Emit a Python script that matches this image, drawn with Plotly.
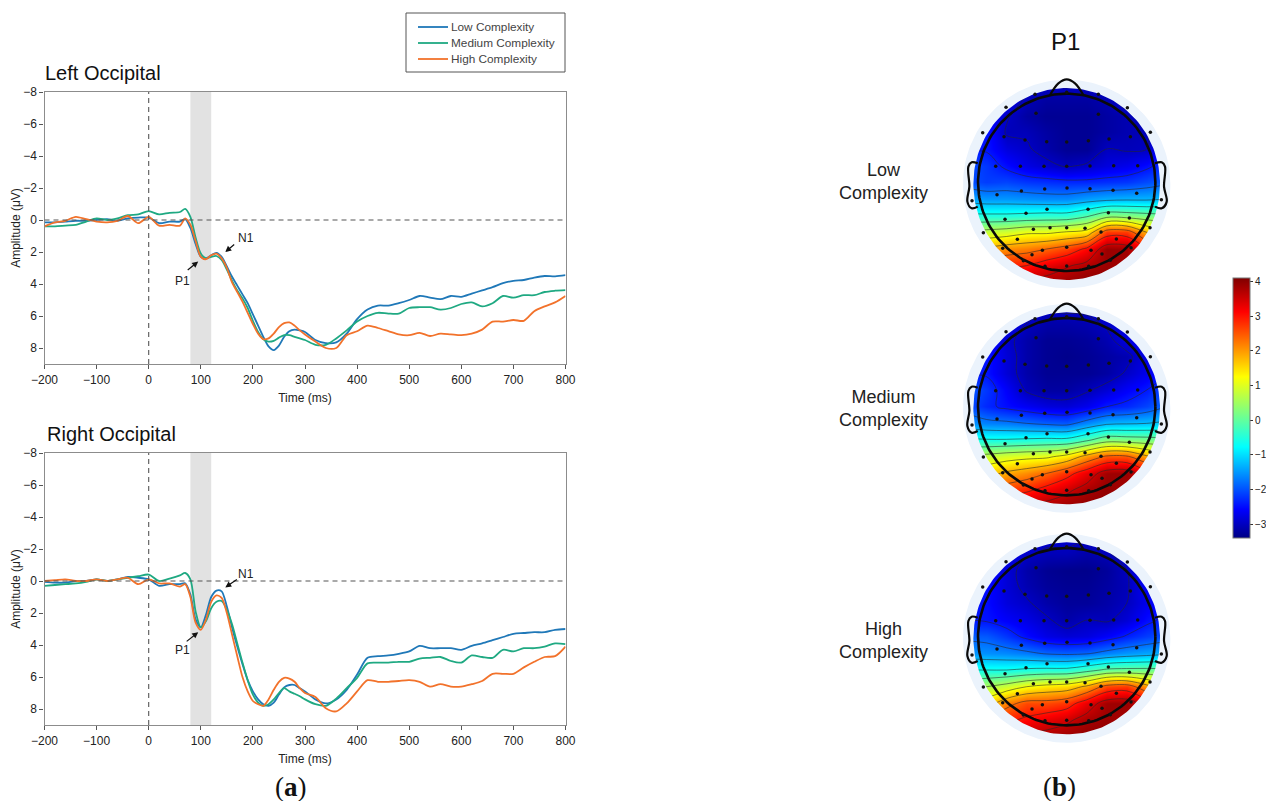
import numpy as np
import plotly.graph_objects as go

W, H = 1266, 801
time_ms = [-200,-180,-160,-140,-120,-100,-80,-60,-40,-20,0,20,40,60,
           70,80,90,100,110,120,130,140,150,160,170,180,190,200,210,220,230,240,250,260,270,280,290,300,
           320,340,360,380,400,420,440,460,480,500,520,540,560,580,600,620,640,660,680,700,720,740,760,780,800]

left_low = [.15,.15,.1,.05,.05,0,-.05,.05,-.1,-.15,-.15,.2,.1,.1,
            -.05,.5,1.5,2.3,2.4,2.2,2.05,2.3,2.9,3.55,4.1,4.65,5.2,5.9,6.6,7.3,7.9,8.13,7.85,7.3,6.95,6.85,6.9,7.0,
            7.5,7.7,7.65,7.1,6.2,5.6,5.35,5.35,5.2,5.0,4.75,4.85,4.95,4.75,4.8,4.6,4.4,4.2,3.95,3.8,3.75,3.6,3.5,3.52,3.45]
left_med = [.4,.4,.35,.3,.1,-.1,0,-.1,-.3,-.35,-.55,-.35,-.45,-.5,
            -.7,-.2,1.1,2.1,2.4,2.3,2.25,2.5,3.1,3.8,4.4,4.9,5.5,6.3,7.0,7.45,7.6,7.55,7.35,7.2,7.2,7.3,7.4,7.5,
            7.8,7.8,7.4,6.9,6.35,6.0,5.8,5.85,5.85,5.5,5.45,5.45,5.6,5.5,5.25,5.15,5.4,5.2,4.75,4.85,4.7,4.7,4.5,4.42,4.38]
left_high = [.4,.15,.05,-.2,-.05,.1,.15,.05,-.25,.2,-.2,.35,.3,.35,
             -.1,.3,1.3,2.3,2.45,2.2,2.1,2.4,3.0,3.9,4.5,5.1,5.8,6.5,7.1,7.45,7.4,7.1,6.7,6.45,6.4,6.6,6.9,7.15,
             7.6,8.0,8.0,7.2,6.95,6.6,6.75,6.95,7.15,7.2,7.05,7.25,7.1,7.15,7.2,7.1,6.85,6.35,6.35,6.25,6.3,5.7,5.4,5.15,4.75]
right_low = [.05,.1,.1,0,0,-.1,0,-.1,-.25,-.2,-.1,.3,.2,.2,
             .15,.85,2.4,2.9,2.1,1.0,.6,.65,1.6,2.9,4.1,5.2,6.2,6.9,7.4,7.7,7.8,7.6,7.1,6.65,6.5,6.5,6.7,6.9,
             7.4,7.65,7.4,6.8,5.85,4.8,4.7,4.65,4.55,4.4,4.05,4.2,4.2,4.2,4.3,4.05,3.9,3.7,3.5,3.3,3.25,3.2,3.2,3.05,3.0]
right_med = [.3,.25,.2,.15,.05,-.1,0,-.1,-.2,-.3,-.4,0,-.15,-.35,
             -.5,-.1,1.9,2.9,2.5,1.7,1.3,1.25,1.8,2.7,3.9,5.1,6.2,7.1,7.6,7.8,7.7,7.4,7.0,6.7,6.9,7.05,7.2,7.4,
             7.7,7.8,7.35,6.7,6.05,5.15,5.1,5.1,5.05,5.05,4.85,4.8,4.75,5.0,5.1,4.65,4.75,4.8,4.3,4.4,4.2,4.2,4.1,3.9,3.95]
right_high = [0,-.05,-.1,0,0,-.1,0,-.1,-.2,.2,-.1,.15,.15,.35,
              .2,1.0,2.6,3.05,2.4,1.3,.9,1.05,2.0,3.35,4.7,6.0,6.9,7.5,7.7,7.8,7.4,6.8,6.3,6.05,6.1,6.3,6.7,7.0,
              7.25,7.95,8.15,7.65,6.9,6.2,6.3,6.3,6.25,6.2,6.3,6.6,6.45,6.6,6.6,6.45,6.25,5.8,5.8,5.8,5.4,5.05,4.75,4.7,4.1]

series_names = ["Low Complexity", "Medium Complexity", "High Complexity"]
series_colors = ["#1f78b8", "#1fa982", "#f2722b"]
x_ticks = [-200,-100,0,100,200,300,400,500,600,700,800]
y_ticks = [-8,-6,-4,-2,0,2,4,6,8]

topo_x = [-300,-240,-180,-120,-60,0,60,120,180,240,300]
topo_y = [300,250,200,150,100,50,0,-50,-100,-150,-200,-250,-300]
topo_low = [
 [-2.5,-2.5,-2.6,-2.75,-2.9,-2.9,-2.9,-2.75,-2.6,-2.5,-2.5],
 [-2.5,-2.5,-2.7,-3.05,-3.2,-3.2,-3.2,-3.1,-2.8,-2.5,-2.5],
 [-2.45,-2.5,-2.95,-3.2,-3.3,-3.3,-3.3,-3.2,-3.1,-3.0,-2.45],
 [-2.45,-2.45,-3.05,-3.05,-3.2,-3.3,-3.3,-3.2,-3.1,-3.05,-2.5],
 [-2.45,-2.45,-2.8,-2.95,-3.15,-3.3,-3.3,-3.0,-3.05,-3.0,-2.45],
 [-2.0,-2.2,-2.5,-2.75,-2.9,-3.05,-2.95,-2.8,-2.7,-2.5,-2.2],
 [-2.0,-2.15,-2.1,-2.2,-2.25,-2.3,-2.3,-2.25,-2.2,-2.05,-1.9],
 [-1.4,-1.5,-1.5,-1.55,-1.6,-1.6,-1.45,-1.35,-1.3,-1.3,-1.2],
 [-0.5,-0.5,-0.5,-0.45,-0.4,-0.4,-0.1,0.35,0.3,0.2,0.1],
 [0.7,0.8,0.9,1.1,1.1,1.25,1.4,2.7,2.7,1.8,1.4],
 [1.7,1.9,2.1,2.2,2.4,2.65,3.1,3.9,3.85,3.0,2.4],
 [2.4,2.7,2.9,3.0,3.3,3.55,3.75,3.9,3.8,3.4,3.0],
 [3.0,3.2,3.5,3.7,3.8,3.9,4.0,4.0,3.9,3.7,3.4]]
topo_med = [
 [-2.5,-2.5,-2.6,-2.75,-2.9,-2.9,-2.9,-2.75,-2.6,-2.5,-2.5],
 [-2.45,-2.45,-2.6,-3.0,-3.15,-3.15,-3.1,-2.95,-2.7,-2.45,-2.45],
 [-2.45,-2.45,-2.9,-3.15,-3.3,-3.3,-3.25,-3.1,-2.8,-2.45,-2.45],
 [-2.45,-2.45,-2.85,-3.15,-3.3,-3.35,-3.3,-3.2,-3.1,-2.75,-2.45],
 [-2.45,-2.45,-2.85,-3.15,-3.3,-3.3,-3.3,-3.2,-2.95,-2.7,-2.45],
 [-1.9,-2.2,-2.6,-3.05,-3.2,-3.2,-3.05,-2.85,-2.6,-2.4,-2.0],
 [-2.0,-2.3,-2.5,-2.65,-2.8,-2.85,-2.7,-2.4,-2.3,-2.1,-1.8],
 [-1.5,-1.65,-1.7,-1.8,-1.9,-1.95,-1.6,-1.3,-1.25,-1.2,-1.1],
 [-0.5,-0.55,-0.55,-0.5,-0.45,-0.45,-0.1,0.35,0.3,0.25,0.15],
 [0.7,0.8,0.95,1.05,1.1,1.4,2.0,2.5,2.5,1.9,1.5],
 [1.3,1.6,1.9,2.1,2.4,2.8,3.3,3.85,3.9,3.2,2.6],
 [2.2,2.4,2.7,2.9,3.2,3.5,3.8,3.95,3.8,3.4,3.0],
 [3.0,3.2,3.5,3.7,3.8,3.9,4.0,4.0,3.9,3.7,3.4]]
topo_high = [
 [-2.5,-2.5,-2.6,-2.75,-2.9,-2.9,-2.95,-2.8,-2.6,-2.5,-2.5],
 [-2.45,-2.45,-2.6,-2.95,-3.05,-3.05,-3.15,-3.05,-2.8,-2.45,-2.45],
 [-2.45,-2.45,-2.85,-3.15,-3.3,-3.35,-3.35,-3.25,-3.0,-2.5,-2.45],
 [-2.45,-2.5,-2.85,-3.1,-3.25,-3.3,-3.3,-3.2,-3.05,-2.6,-2.45],
 [-2.45,-2.5,-2.8,-2.95,-3.15,-3.25,-3.25,-3.15,-3.0,-2.7,-2.45],
 [-2.4,-2.45,-2.6,-2.75,-2.95,-3.15,-3.0,-3.05,-2.85,-2.5,-2.3],
 [-1.9,-1.95,-2.2,-2.5,-2.75,-2.85,-2.8,-2.6,-2.35,-2.15,-2.0],
 [-1.5,-1.55,-1.6,-1.7,-1.85,-1.9,-1.85,-1.65,-1.5,-1.4,-1.3],
 [-0.6,-0.6,-0.6,-0.5,-0.45,-0.45,-0.2,0.1,0.15,0.15,0.1],
 [0.5,0.6,0.85,1.2,1.4,1.5,1.9,2.6,2.7,2.0,1.4],
 [1.2,1.5,2.2,2.6,2.6,2.75,3.3,3.85,3.9,3.3,2.6],
 [2.1,2.5,2.9,3.1,3.3,3.5,3.8,3.9,3.8,3.4,3.0],
 [3.0,3.2,3.5,3.7,3.8,3.9,4.0,4.0,3.9,3.7,3.4]]

electrode_x = [-95,0,95,-182,-92,95,182,-252,-188,-125,-60,0,65,127,191,251,
               -213,-139,-68,0,70,141,213,-284,-209,-136,-66,1,70,139,210,284,
               -185,-122,-59,64,125,188,-250,-100,-50,0,55,103,250,
               -148,-192,0,-73,-104,73,106,149,193,-130,-65,0,66,131]
electrode_y = [264,270,264,225,207,204,224,149,137,127,122,121,125,130,137,150,
               48,48,48,48,49,50,50,-55,-37,-26,-20,-17,-19,-24,-33,-52,
               -111,-93,-81,-81,-91,-107,-151,-141,-136,-136,-138,-149,-136,
               -171,-198,-195,-204,-217,-204,-215,-170,-196,-235,-252,-251,-252,-234]

nose_x = [-50,-25,0,25,50]
nose_y = [262,297,309,297,262]
ear_left_x = [-267,-285,-295,-292,-298,-285,-267]
ear_right_x = [265,285,295,292,300,285,265]
ear_y = [57,60,47,-13,-58,-78,-73]

jet = [[0, "#000085"], [0.11, "#0000ff"], [0.35, "#00ffff"], [0.62, "#ffff00"], [0.87, "#ff0000"], [1, "#800000"]]

panels = [
    dict(name="Left Occipital", top=92, series=[left_low, left_med, left_high], tx=43, ty=73,
         p1=(95, 2.6, 72, 3.2), n1=(147, 2.0, 167, 1.45), p1t=(65, 3.8), n1t=(187, 1.1)),
    dict(name="Right Occipital", top=453, series=[right_low, right_med, right_high], tx=45, ty=434,
         p1=(95, 3.2, 70, 3.85), n1=(147, 0.4, 172, -0.15), p1t=(65, 4.3), n1t=(187, -0.45)),
]

FONT = "Liberation Sans"
AX_L, AX_R = 44.5, 565.5
fig = go.Figure()
annotations, shapes = [], []
layout = {}

def px_dom_x(a, b): return [a / W, b / W]
def px_dom_y(t, b): return [1 - b / H, 1 - t / H]

for i, p in enumerate(panels):
    sfx = "" if i == 0 else "2"
    xname, yname = "xaxis" + sfx, "yaxis" + sfx
    xr, yr = "x" + sfx, "y" + sfx
    axis_common = dict(showgrid=False, zeroline=False, showline=True, mirror=True, linecolor="#8c8c8c",
                       linewidth=1.2, ticks="outside", ticklen=4, tickcolor="#555", tickwidth=1,
                       tickfont=dict(family=FONT, size=12, color="#222"))
    layout[xname] = dict(axis_common, domain=px_dom_x(AX_L, AX_R), range=[-200, 800], tickvals=x_ticks,
                         anchor=yr, title=dict(text="Time (ms)", standoff=8,
                                               font=dict(family=FONT, size=12, color="#222")))
    layout[yname] = dict(axis_common, domain=px_dom_y(p["top"], p["top"] + 272), range=[9, -8], tickvals=y_ticks,
                         anchor=xr, title=dict(text="Amplitude (μV)", standoff=0,
                                               font=dict(family=FONT, size=12, color="#222")))
    shapes.append(dict(type="rect", xref=xr, yref=yr, x0=80, x1=120, y0=9, y1=-8,
                       fillcolor="#e2e2e2", line=dict(width=0), layer="below"))
    shapes.append(dict(type="line", xref=xr, yref=yr, x0=-200, x1=800, y0=0, y1=0,
                       line=dict(color="#555", width=1.1, dash="5px,4px"), layer="above"))
    shapes.append(dict(type="line", xref=xr, yref=yr, x0=0, x1=0, y0=9, y1=-8,
                       line=dict(color="#555", width=1.1, dash="5px,4px"), layer="above"))
    for name, vals, col in zip(series_names, p["series"], series_colors):
        fig.add_trace(go.Scatter(x=time_ms, y=vals, mode="lines", name=name, xaxis=xr, yaxis=yr,
                                 showlegend=False,
                                 line=dict(color=col, width=1.8, shape="spline", smoothing=0.8)))
    annotations.append(dict(text=p["name"], x=p["tx"] / W, y=1 - p["ty"] / H, xref="paper", yref="paper",
                            xanchor="left", yanchor="middle", showarrow=False,
                            font=dict(family=FONT, size=20, color="#111")))
    for key, label in (("p1", "P1"), ("n1", "N1")):
        hx, hy, tx, ty = p[key]
        annotations.append(dict(x=hx, y=hy, ax=tx, ay=ty, xref=xr, yref=yr, axref=xr, ayref=yr, text="",
                                showarrow=True, arrowhead=2, arrowsize=1, arrowwidth=1.2, arrowcolor="#111"))
        lx, ly = p[key + "t"]
        annotations.append(dict(x=lx, y=ly, xref=xr, yref=yr, text=label, showarrow=False,
                                xanchor="center", yanchor="middle",
                                font=dict(family=FONT, size=12, color="#222")))

# legend box drawn with compact rows
shapes.append(dict(type="rect", xref="paper", yref="paper", x0=406 / W, x1=565 / W, y0=1 - 72 / H, y1=1 - 13 / H,
                   line=dict(color="#555", width=1), fillcolor="white", layer="above"))
for name, col, ly in zip(series_names, series_colors, [27, 43, 59]):
    shapes.append(dict(type="line", xref="paper", yref="paper", x0=418 / W, x1=448 / W, y0=1 - ly / H, y1=1 - ly / H,
                       line=dict(color=col, width=1.8), layer="above"))
    annotations.append(dict(text=name, x=449 / W, y=1 - ly / H, xref="paper", yref="paper", showarrow=False,
                            xanchor="left", yanchor="middle", font=dict(family=FONT, size=11.8, color="#444")))

# scalp maps
theta = np.linspace(0, 2 * np.pi, 181)
def ellipse(rx, ry, cy=0, rev=False):
    t = theta[::-1] if rev else theta
    return rx * np.cos(t), cy + ry * np.sin(t)

topo_centers = [182.3, 406.7, 636.7]
topo_cx = 1066.7
HALF_PX = 112
HALF_U = HALF_PX * 3
topo_sets = [topo_low, topo_med, topo_high]
topo_labels = [("Low", "Complexity"), ("Medium", "Complexity"), ("High", "Complexity")]
topo_label_y = [181.5, 408, 640]

for k, (z, cy) in enumerate(zip(topo_sets, topo_centers)):
    n = k + 3
    xr, yr = f"x{n}", f"y{n}"
    hidden = dict(visible=False, showgrid=False, zeroline=False)
    layout[f"xaxis{n}"] = dict(hidden, domain=px_dom_x(topo_cx - HALF_PX, topo_cx + HALF_PX),
                               range=[-HALF_U, HALF_U], anchor=yr)
    layout[f"yaxis{n}"] = dict(hidden, domain=px_dom_y(cy - HALF_PX, cy + HALF_PX),
                               range=[-HALF_U, HALF_U], anchor=xr)
    hm = dict(x=topo_x, y=topo_y, z=z, xaxis=xr, yaxis=yr, colorscale=jet, zmin=-3.4, zmax=4.1,
              zsmooth="best", hoverinfo="skip", showscale=(k == 0))
    if k == 0:
        hm["colorbar"] = dict(x=1233 / W, xanchor="left", y=1 - 278 / H, yanchor="top", len=260 / H,
                              lenmode="fraction", thickness=17, thicknessmode="pixels", xpad=0, ypad=0,
                              outlinecolor="#777", outlinewidth=1, ticks="outside", ticklen=3, tickcolor="#333",
                              tickvals=[-3, -2, -1, 0, 1, 2, 3, 4],
                              tickfont=dict(family=FONT, size=10, color="#222"))
    fig.add_trace(go.Heatmap(**hm))
    fig.add_trace(go.Contour(x=topo_x, y=topo_y, z=z, xaxis=xr, yaxis=yr, showscale=False, hoverinfo="skip",
                             showlegend=False,
                             contours=dict(coloring="none", start=-3, end=3.6, size=0.6, showlabels=False),
                             line=dict(color="rgba(40,40,40,0.7)", width=0.8, smoothing=1)))
    # pale halo ring and white surround, both with a hole
    hx, hy = ellipse(308, 310, -5, rev=True)
    ox = np.array([-HALF_U, HALF_U, HALF_U, -HALF_U, -HALF_U])
    oy = np.array([-HALF_U, -HALF_U, HALF_U, HALF_U, -HALF_U])
    fig.add_trace(go.Scatter(x=np.r_[ox, hx, ox[0]], y=np.r_[oy, hy, oy[0]], mode="lines", fill="toself",
                             fillcolor="white", line=dict(width=0), xaxis=xr, yaxis=yr,
                             showlegend=False, hoverinfo="skip"))
    hx2, hy2 = ellipse(311, 313, -5)
    dx2, dy2 = ellipse(280, 288, -5, rev=True)
    fig.add_trace(go.Scatter(x=np.r_[hx2, dx2], y=np.r_[hy2, dy2], mode="lines", fill="toself",
                             fillcolor="#ebf3fc", line=dict(width=0), xaxis=xr, yaxis=yr,
                             showlegend=False, hoverinfo="skip"))
    hcx, hcy = ellipse(266, 266)
    outline = dict(mode="lines", xaxis=xr, yaxis=yr, showlegend=False, hoverinfo="skip")
    fig.add_trace(go.Scatter(x=hcx, y=hcy, line=dict(color="#0a0a0a", width=2.6), **outline))
    fig.add_trace(go.Scatter(x=nose_x, y=nose_y, line=dict(color="#0a0a0a", width=2.2, shape="spline"), **outline))
    fig.add_trace(go.Scatter(x=ear_left_x, y=ear_y, line=dict(color="#0a0a0a", width=2.2, shape="spline"), **outline))
    fig.add_trace(go.Scatter(x=ear_right_x, y=ear_y, line=dict(color="#0a0a0a", width=2.2, shape="spline"), **outline))
    fig.add_trace(go.Scatter(x=electrode_x, y=electrode_y, mode="markers", xaxis=xr, yaxis=yr, showlegend=False,
                             hoverinfo="skip", marker=dict(color="#111", size=3.5)))
    l1, l2 = topo_labels[k]
    annotations.append(dict(text=f"{l1}<br>{l2}", x=883 / W, y=1 - topo_label_y[k] / H, xref="paper", yref="paper",
                            xanchor="center", yanchor="middle",
                            showarrow=False, font=dict(family=FONT, size=18, color="#222"), align="center"))

annotations.append(dict(text="P1", x=1065 / W, y=1 - 41 / H, xref="paper", yref="paper", showarrow=False,
                        xanchor="center", yanchor="middle", font=dict(family=FONT, size=24, color="#111")))
for label, cx in (("a", 291), ("b", 1059)):
    annotations.append(dict(text=f"(<b>{label}</b>)", x=cx / W, y=1 - 787 / H, xref="paper", yref="paper",
                            xanchor="center", yanchor="middle",
                            showarrow=False, font=dict(family="Liberation Serif", size=27, color="#111")))

fig.update_layout(width=W, height=H, margin=dict(l=0, r=0, t=0, b=0, autoexpand=False),
                  paper_bgcolor="white", plot_bgcolor="white", showlegend=False,
                  autosize=False, annotations=annotations, shapes=shapes, **layout)
fig.write_html("out.html", config={"displayModeBar": False}, post_script="document.body.style.margin='0';")
